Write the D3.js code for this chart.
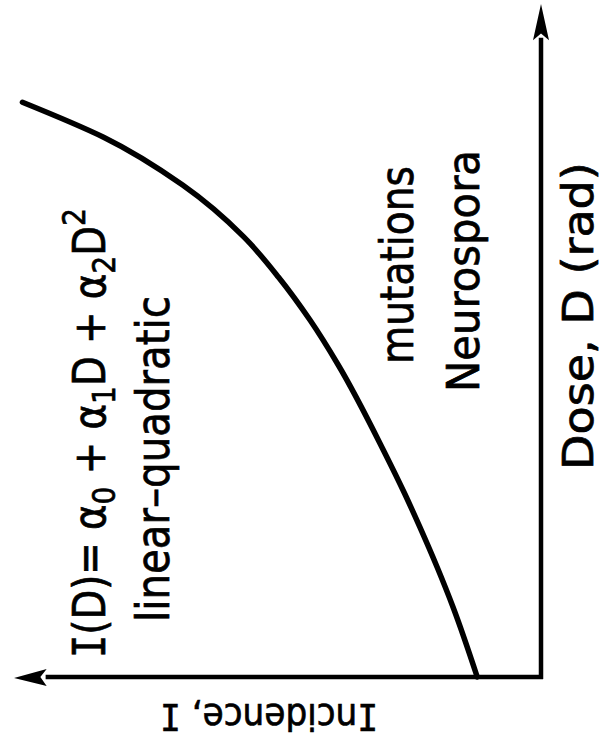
<!DOCTYPE html>
<html>
<head>
<meta charset="utf-8">
<script src="https://cdn.jsdelivr.net/npm/d3@7"></script>
<style>
	body { margin: 0; background: #fff; }
	svg text { font-family: "DejaVu Sans", "Liberation Sans", sans-serif; fill: #000; stroke: #000; stroke-width: 0.7px; }
	svg text .serif-i { font-family: "DejaVu Sans Mono", monospace; }
</style>
</head>
<body>
<svg id="chart" width="610" height="743"></svg>
<script>
// values (dose and incidence in arbitrary units, 0-100 of the axis length)
const dose = [0, 10.4, 16.3, 22.3, 27.3, 33.7, 46.4, 53.0, 59.4, 65.4, 73.1, 80.2, 85.4];
const incidence = [12.1, 16.7, 19.7, 23.0, 25.9, 29.9, 38.5, 43.8, 49.8, 56.4, 68.0, 83.0, 98.4];

const doseLabel = 'Dose,  D (rad)';
const incidenceLabel = ['I', 'ncidence,  ', 'I'];
const curveLabels = ['mutations', 'Neurospora'];
const modelLabel = 'linear\u2013quadratic';

const svg = d3.select('#chart');

// the figure is turned a quarter turn: dose runs up the page, incidence runs to the left
const y = d3.scaleLinear().domain([0, 100]).range([677, 4]);
const x = d3.scaleLinear().domain([0, 100]).range([541, 14]);

const points = dose.map((d, i) => ({dose: d, inc: incidence[i]}));

// axes
const axes = svg.append('g').attr('class', 'axes');

axes.append('line')
	.attr('x1', x(0)).attr('y1', y(0) + 2)
	.attr('x2', x(0)).attr('y2', y(95))
	.style('stroke', '#000').style('stroke-width', 4.5);

axes.append('line')
	.attr('x1', x(0) + 2).attr('y1', y(0))
	.attr('x2', x(94)).attr('y2', y(0))
	.style('stroke', '#000').style('stroke-width', 4.5);

// arrow heads
axes.append('path')
	.attr('d', 'M' + x(0) + ',' + y(100) + ' L' + (x(0) - 8) + ',' + y(94.6) +
		' L' + x(0) + ',' + y(95.6) + ' L' + (x(0) + 8) + ',' + y(94.6) + 'Z')
	.style('fill', '#000');

axes.append('path')
	.attr('d', 'M' + x(100) + ',' + (y(0) + 1) + ' L' + x(93.8) + ',' + (y(0) - 8) +
		' L' + x(95) + ',' + y(0) + ' L' + x(93.8) + ',' + (y(0) + 9) + 'Z')
	.style('fill', '#000');

// curve
const line = d3.line()
	.x(d => x(d.inc))
	.y(d => y(d.dose))
	.curve(d3.curveMonotoneY);

svg.append('path')
	.datum(points)
	.attr('d', line)
	.style('fill', 'none')
	.style('stroke', '#000')
	.style('stroke-width', 5.5)
	.style('stroke-linecap', 'round');

// labels: squeeze each one along its run so it spans the same length as in the figure
function fit(sel, tx, ty, angle, len) {
	const k = len / sel.node().getComputedTextLength();
	sel.attr('transform', 'translate(' + tx + ',' + ty + ') rotate(' + angle + ') scale(' + k + ',1)');
	return sel;
}

function label(text, size) {
	return svg.append('text').style('font-size', size + 'px').text(text);
}

fit(label(doseLabel, 42), 593, 470, -90, 308);
fit(label(curveLabels[0], 46), 413, 364, -90, 198);
fit(label(curveLabels[1], 44), 479, 392, -90, 242);
fit(label(modelLabel, 46), 169, 622, -90, 326);

const formula = svg.append('text').style('font-size', '44px');
formula.append('tspan').attr('class', 'serif-i').text('I');
formula.append('tspan').text('(D)= \u03b1');
formula.append('tspan').attr('dy', 10).style('font-size', '32px').text('0');
formula.append('tspan').attr('dy', -10).text(' + \u03b1');
formula.append('tspan').attr('dy', 10).style('font-size', '32px').text('1');
formula.append('tspan').attr('dy', -10).text('D + \u03b1');
formula.append('tspan').attr('dy', 10).style('font-size', '32px').text('2');
formula.append('tspan').attr('dy', -10).text('D');
formula.append('tspan').attr('dy', -20).style('font-size', '32px').text('2');
fit(formula, 105, 658, -90, 450);

const incText = svg.append('text').style('font-size', '38px');
incText.selectAll('tspan')
	.data(incidenceLabel)
	.enter().append('tspan')
	.attr('class', d => d === 'I' ? 'serif-i' : null)
	.text(d => d);
fit(incText, 378, 704, 180, 218);
</script>
</body>
</html>
